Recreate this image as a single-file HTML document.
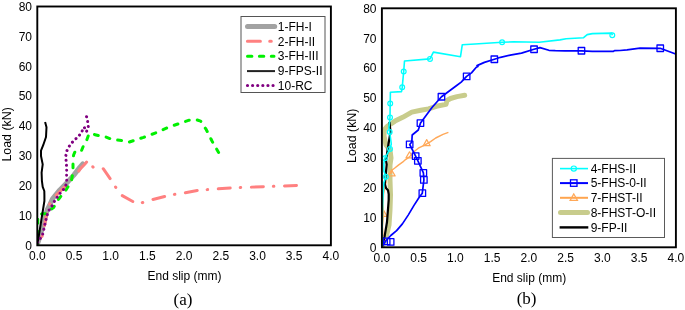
<!DOCTYPE html>
<html><head><meta charset="utf-8"><style>
html,body{margin:0;padding:0;background:#fff;}
svg{display:block;will-change:transform;}
text{font-family:"Liberation Sans",sans-serif;font-size:12px;fill:#000;}
.ser{font-family:"Liberation Serif",serif;font-size:17px;}
</style></head><body>
<svg width="685" height="310" viewBox="0 0 685 310">
<rect width="685" height="310" fill="#fff"/>
<defs>
<clipPath id="ca"><rect x="37.3" y="6.5" width="293.59999999999997" height="238.8"/></clipPath>
<clipPath id="cb"><rect x="381.9" y="8.3" width="294.0" height="239.0"/></clipPath>
</defs>
<!-- Panel A -->
<g clip-path="url(#ca)" fill="none" stroke-linejoin="round">
<polyline points="37.8,243.0 40.0,236.0 42.0,229.0 44.0,223.0 45.5,216.0 47.2,210.0 49.5,205.5 52.4,199.0 56.0,194.5 59.6,190.2 66.7,183.1 73.8,175.1 80.0,167.1 82.8,164.0" stroke="#a2a2a2" stroke-width="5" stroke-linecap="round"/>
<polyline points="37.6,243.5 39.5,240.0 41.4,238.9 43.5,230.7 44.8,224.0 46.8,213.0 48.2,206.4 53.0,199.0 57.3,194.0 61.5,190.0 65.0,186.5 69.5,181.0 73.8,176.9 77.3,173.3 80.4,168.6 84.5,164.5 88.0,160.5 93.6,167.8 103.0,168.4 111.4,180.4 116.0,187.7 121.0,195.0 134.5,202.4 138.0,203.5 141.8,202.8 151.3,199.9 166.0,196.1 174.3,194.4 183.8,193.0 198.4,190.3 207.5,189.6 217.0,188.9 232.0,187.9 249.5,187.2 264.4,186.6 282.8,186.1 298.6,185.4" stroke="#ff8080" stroke-width="3" stroke-dasharray="12 10 0.5 10.65" stroke-dashoffset="13.2" stroke-linecap="round"/>
<polyline points="37.6,244.0 37.8,218.0 38.5,214.5 42.5,213.8 47.0,213.6 50.0,210.0 53.6,207.5 56.5,202.0 59.5,198.0 63.0,193.5 66.0,190.0 68.5,186.0 71.5,180.0 72.5,175.0 73.0,169.0 73.0,160.0 73.6,155.0 75.6,150.4 81.6,150.4 84.0,144.4 86.5,140.7 88.9,134.0 89.2,133.5 95.0,134.7 99.8,135.9 105.8,137.0 111.4,139.2 122.8,140.7 129.4,142.0 143.6,137.3 156.9,132.5 166.4,128.1 177.8,124.0 189.2,120.2 196.8,119.8 200.6,121.1 206.3,129.7 212.0,141.0 218.6,152.4" stroke="#00f000" stroke-width="3" stroke-dasharray="3.9 8.06" stroke-dashoffset="3.18" stroke-linecap="round"/>
<polyline points="37.5,244.0 44.4,201.0 44.4,195.0 44.3,191.0 42.7,186.8 41.9,180.8 41.6,172.6 42.7,164.4 41.0,156.0 41.0,150.6 43.2,145.2 46.0,137.0 46.5,127.3 45.1,121.9" stroke="#000" stroke-width="2"/>
<polyline points="37.5,242.5 39.4,239.6 42.1,236.2 43.5,231.4 44.1,227.4 45.5,221.9 46.8,215.8 48.9,210.4 50.7,208.0 52.4,205.3 55.1,200.0 57.8,196.4 59.6,193.8 62.2,191.1 64.9,187.6 66.7,183.1 66.6,176.0 66.7,168.9 66.3,162.1 65.6,157.0 66.8,151.0 68.5,147.4 70.9,143.7 73.3,141.3 75.7,138.9 78.9,136.0 82.0,131.2 84.2,127.1 86.4,131.7 88.5,127.3 88.0,125.4 87.6,121.0 87.2,118.5 85.7,114.3" stroke="#800080" stroke-width="3" stroke-dasharray="0.01 5" stroke-linecap="round"/>
</g>
<rect x="37.3" y="6.5" width="293.59999999999997" height="238.8" fill="none" stroke="#000" stroke-width="1.9"/>
<text x="32" y="249.6" text-anchor="end">0</text>
<text x="32" y="219.8" text-anchor="end">10</text>
<text x="32" y="189.9" text-anchor="end">20</text>
<text x="32" y="160.1" text-anchor="end">30</text>
<text x="32" y="130.2" text-anchor="end">40</text>
<text x="32" y="100.3" text-anchor="end">50</text>
<text x="32" y="70.5" text-anchor="end">60</text>
<text x="32" y="40.6" text-anchor="end">70</text>
<text x="32" y="10.8" text-anchor="end">80</text>
<text x="37.3" y="259.5" text-anchor="middle">0.0</text>
<text x="74.0" y="259.5" text-anchor="middle">0.5</text>
<text x="110.7" y="259.5" text-anchor="middle">1.0</text>
<text x="147.4" y="259.5" text-anchor="middle">1.5</text>
<text x="184.1" y="259.5" text-anchor="middle">2.0</text>
<text x="220.8" y="259.5" text-anchor="middle">2.5</text>
<text x="257.5" y="259.5" text-anchor="middle">3.0</text>
<text x="294.2" y="259.5" text-anchor="middle">3.5</text>
<text x="330.9" y="259.5" text-anchor="middle">4.0</text>
<text x="184.5" y="280" text-anchor="middle">End slip (mm)</text>
<text transform="translate(10.6,134.4) rotate(-90)" text-anchor="middle" style="font-size:12.4px">Load (kN)</text>
<text class="ser" x="183" y="305.4" text-anchor="middle">(a)</text>
<!-- Legend A -->
<rect x="241" y="16.5" width="84" height="76" fill="#fff" stroke="#555" stroke-width="1"/>
<line x1="247.5" y1="26.5" x2="274.7" y2="26.5" stroke="#a2a2a2" stroke-width="5" stroke-linecap="round"/>
<line x1="247.4" y1="41.3" x2="273" y2="41.3" stroke="#ff8080" stroke-width="3" stroke-dasharray="13 9.3 1.6 10" stroke-linecap="round"/>
<line x1="247.5" y1="56.3" x2="274" y2="56.3" stroke="#00f000" stroke-width="3" stroke-dasharray="4.4 7.5" stroke-linecap="round"/>
<line x1="247" y1="71.1" x2="275" y2="71.1" stroke="#222" stroke-width="2"/>
<line x1="247.5" y1="85.5" x2="273.2" y2="85.5" stroke="#800080" stroke-width="3.2" stroke-dasharray="0.01 5.1" stroke-linecap="round"/>
<text x="277.8" y="30.8">1-FH-I</text>
<text x="277.8" y="45.6">2-FH-II</text>
<text x="277.8" y="60.4">3-FH-III</text>
<text x="277.8" y="75.2">9-FPS-II</text>
<text x="277.8" y="90">10-RC</text>

<!-- Panel B -->
<g clip-path="url(#cb)" fill="none" stroke-linejoin="round">
<polyline points="382.5,246.0 386.0,238.0 389.0,225.0 390.0,210.0 390.5,195.0 390.0,180.0 390.0,165.0 391.0,158.0 390.0,150.0 386.0,145.0 384.0,136.0 384.3,129.8 387.0,126.5 395.0,121.1 402.7,117.3 411.8,112.1 420.8,110.2 428.5,108.9 436.3,106.3 446.0,104.4 447.0,100.5 450.5,98.5 457.0,96.6 464.7,95.3" stroke="#c8cc8c" stroke-width="5" stroke-linecap="round"/>
<polyline points="381.9,246.0 383.0,236.0 382.5,226.0 383.6,214.0 383.0,204.0 383.5,194.1 384.2,190.3 384.8,186.4 386.1,182.5 385.5,178.6 387.4,174.8 391.6,172.9 391.9,170.3 394.5,168.3 398.4,165.1 402.9,161.9 405.2,159.8 409.5,156.9 413.9,151.8 418.3,148.2 424.1,145.3 430.6,141.6 435.7,138.0 443.0,134.4 448.4,132.4" stroke="#ffa858" stroke-width="1.4"/>
<polygon points="391.6,169.8 388.1,175.9 395.1,175.9" fill="none" stroke="#ffa858" stroke-width="1.2"/>
<polygon points="409.5,151.8 406.0,157.9 413.0,157.9" fill="none" stroke="#ffa858" stroke-width="1.2"/>
<polygon points="426.7,139.6 423.2,145.7 430.2,145.7" fill="none" stroke="#ffa858" stroke-width="1.2"/>
<polygon points="383.6,210.3 380.1,216.4 387.1,216.4" fill="none" stroke="#ffa858" stroke-width="1.2"/>
<polyline points="381.7,247.0 384.5,237.0 387.0,222.0 388.7,200.0 388.7,194.1 388.0,190.3 386.1,188.3 384.8,183.8 385.5,177.4 386.1,170.9 386.7,164.5 386.1,160.6 387.3,152.0 388.5,144.0 390.5,132.0 389.5,122.0" stroke="#000" stroke-width="2.2"/>
<polyline points="381.7,247.3 386.0,240.5 390.8,235.5 396.6,230.6 402.4,223.9 408.2,215.1 414.0,205.4 418.9,197.7 422.3,193.2 423.9,179.9 423.4,172.9 417.9,160.8 415.6,156.1 409.7,144.5 411.8,142.0 412.2,135.0 418.3,130.0 420.5,123.1 432.2,107.3 441.5,96.8 456.0,86.0 461.2,82.1 466.6,76.4 471.5,72.9 476.3,67.3 477.9,66.5 477.0,65.6 484.4,62.4 494.4,59.2 500.5,57.3 510.2,55.2 521.5,53.1 534.0,49.2 540.0,47.6 548.9,50.3 555.3,50.6 565.0,50.8 581.5,50.8 592.3,51.3 613.5,51.3 614.5,50.6 620.0,50.5 627.0,49.8 640.0,48.2 660.2,48.3 680.0,55.5" stroke="#0000ff" stroke-width="1.7"/>
<rect x="383.4" y="238.2" width="6.5" height="6.5" fill="none" stroke="#0000ff" stroke-width="1.3"/>
<rect x="387.4" y="238.7" width="6.5" height="6.5" fill="none" stroke="#0000ff" stroke-width="1.3"/>
<rect x="419.1" y="189.9" width="6.5" height="6.5" fill="none" stroke="#0000ff" stroke-width="1.3"/>
<rect x="420.6" y="176.7" width="6.5" height="6.5" fill="none" stroke="#0000ff" stroke-width="1.3"/>
<rect x="420.1" y="169.7" width="6.5" height="6.5" fill="none" stroke="#0000ff" stroke-width="1.3"/>
<rect x="414.6" y="157.6" width="6.5" height="6.5" fill="none" stroke="#0000ff" stroke-width="1.3"/>
<rect x="412.4" y="152.8" width="6.5" height="6.5" fill="none" stroke="#0000ff" stroke-width="1.3"/>
<rect x="406.4" y="141.2" width="6.5" height="6.5" fill="none" stroke="#0000ff" stroke-width="1.3"/>
<rect x="417.2" y="119.8" width="6.5" height="6.5" fill="none" stroke="#0000ff" stroke-width="1.3"/>
<rect x="438.2" y="93.5" width="6.5" height="6.5" fill="none" stroke="#0000ff" stroke-width="1.3"/>
<rect x="463.4" y="73.2" width="6.5" height="6.5" fill="none" stroke="#0000ff" stroke-width="1.3"/>
<rect x="491.1" y="56.0" width="6.5" height="6.5" fill="none" stroke="#0000ff" stroke-width="1.3"/>
<rect x="530.8" y="46.0" width="6.5" height="6.5" fill="none" stroke="#0000ff" stroke-width="1.3"/>
<rect x="578.2" y="47.5" width="6.5" height="6.5" fill="none" stroke="#0000ff" stroke-width="1.3"/>
<rect x="657.0" y="45.0" width="6.5" height="6.5" fill="none" stroke="#0000ff" stroke-width="1.3"/>
<polyline points="381.9,247.0 382.4,215.0 382.9,198.0 383.9,182.6 385.8,176.8 383.9,171.0 383.9,163.2 384.8,158.2 386.5,155.3 390.0,148.9 391.3,144.0 389.7,132.0 388.9,127.9 390.0,117.4 390.2,103.6 390.4,92.2 401.5,91.6 402.2,87.4 403.7,71.5 404.5,61.0 430.0,58.9 433.4,52.1 460.5,56.7 462.3,44.7 475.0,44.0 502.1,42.3 513.4,41.8 539.2,42.3 560.0,39.9 566.1,38.8 583.6,37.7 587.2,34.6 592.4,33.6 611.7,33.1 612.3,35.3" stroke="#00ffff" stroke-width="1.6"/>
<circle cx="384.8" cy="158.2" r="2.4" fill="none" stroke="#00ffff" stroke-width="1.2"/>
<circle cx="385.8" cy="176.8" r="2.4" fill="none" stroke="#00ffff" stroke-width="1.2"/>
<circle cx="390" cy="148.9" r="2.4" fill="none" stroke="#00ffff" stroke-width="1.2"/>
<circle cx="389.7" cy="132" r="2.4" fill="none" stroke="#00ffff" stroke-width="1.2"/>
<circle cx="390" cy="117.4" r="2.4" fill="none" stroke="#00ffff" stroke-width="1.2"/>
<circle cx="390.2" cy="103.6" r="2.4" fill="none" stroke="#00ffff" stroke-width="1.2"/>
<circle cx="402.2" cy="87.2" r="2.4" fill="none" stroke="#00ffff" stroke-width="1.2"/>
<circle cx="403.7" cy="71.5" r="2.4" fill="none" stroke="#00ffff" stroke-width="1.2"/>
<circle cx="430" cy="58.9" r="2.4" fill="none" stroke="#00ffff" stroke-width="1.2"/>
<circle cx="502.1" cy="42.3" r="2.4" fill="none" stroke="#00ffff" stroke-width="1.2"/>
<circle cx="612.3" cy="35.3" r="2.4" fill="none" stroke="#00ffff" stroke-width="1.2"/>
</g>
<rect x="381.9" y="8.3" width="294.0" height="239.0" fill="none" stroke="#000" stroke-width="1.9"/>
<text x="376.5" y="251.6" text-anchor="end">0</text>
<text x="376.5" y="221.7" text-anchor="end">10</text>
<text x="376.5" y="191.9" text-anchor="end">20</text>
<text x="376.5" y="162.0" text-anchor="end">30</text>
<text x="376.5" y="132.1" text-anchor="end">40</text>
<text x="376.5" y="102.2" text-anchor="end">50</text>
<text x="376.5" y="72.4" text-anchor="end">60</text>
<text x="376.5" y="42.5" text-anchor="end">70</text>
<text x="376.5" y="12.6" text-anchor="end">80</text>
<text x="381.9" y="261.8" text-anchor="middle">0.0</text>
<text x="418.6" y="261.8" text-anchor="middle">0.5</text>
<text x="455.4" y="261.8" text-anchor="middle">1.0</text>
<text x="492.1" y="261.8" text-anchor="middle">1.5</text>
<text x="528.9" y="261.8" text-anchor="middle">2.0</text>
<text x="565.6" y="261.8" text-anchor="middle">2.5</text>
<text x="602.4" y="261.8" text-anchor="middle">3.0</text>
<text x="639.1" y="261.8" text-anchor="middle">3.5</text>
<text x="675.9" y="261.8" text-anchor="middle">4.0</text>
<text x="529.2" y="281.6" text-anchor="middle">End slip (mm)</text>
<text transform="translate(355.6,135.8) rotate(-90)" text-anchor="middle" style="font-size:12.4px">Load (kN)</text>
<text class="ser" x="526.6" y="303.6" text-anchor="middle">(b)</text>
<!-- Legend B -->
<rect x="552.4" y="158.4" width="112.1" height="79.1" fill="#fff" stroke="#5a5a5a" stroke-width="1"/>
<line x1="560" y1="168.6" x2="588" y2="168.6" stroke="#00ffff" stroke-width="1.6"/>
<circle cx="573.8" cy="168.6" r="2.6" fill="none" stroke="#00ffff" stroke-width="1.2"/>
<line x1="560" y1="183.1" x2="588" y2="183.1" stroke="#0000ff" stroke-width="2"/>
<rect x="570.5" y="179.8" width="6.5" height="6.5" fill="none" stroke="#0000ff" stroke-width="1.3"/>
<line x1="560" y1="197.8" x2="588" y2="197.8" stroke="#ffa54f" stroke-width="2"/>
<polygon points="573.8,193.9 570.1,200.4 577.5,200.4" fill="none" stroke="#ffa858" stroke-width="1.2"/>
<line x1="560.5" y1="212.5" x2="587.5" y2="212.5" stroke="#c8cc8c" stroke-width="5" stroke-linecap="round"/>
<line x1="559.6" y1="227.4" x2="588.3" y2="227.4" stroke="#000" stroke-width="2.4"/>
<text x="590.7" y="172.9">4-FHS-II</text>
<text x="590.7" y="187.4">5-FHS-0-II</text>
<text x="590.7" y="202">7-FHST-II</text>
<text x="590.7" y="216.8">8-FHST-O-II</text>
<text x="590.7" y="231.6">9-FP-II</text>
</svg>
</body></html>
